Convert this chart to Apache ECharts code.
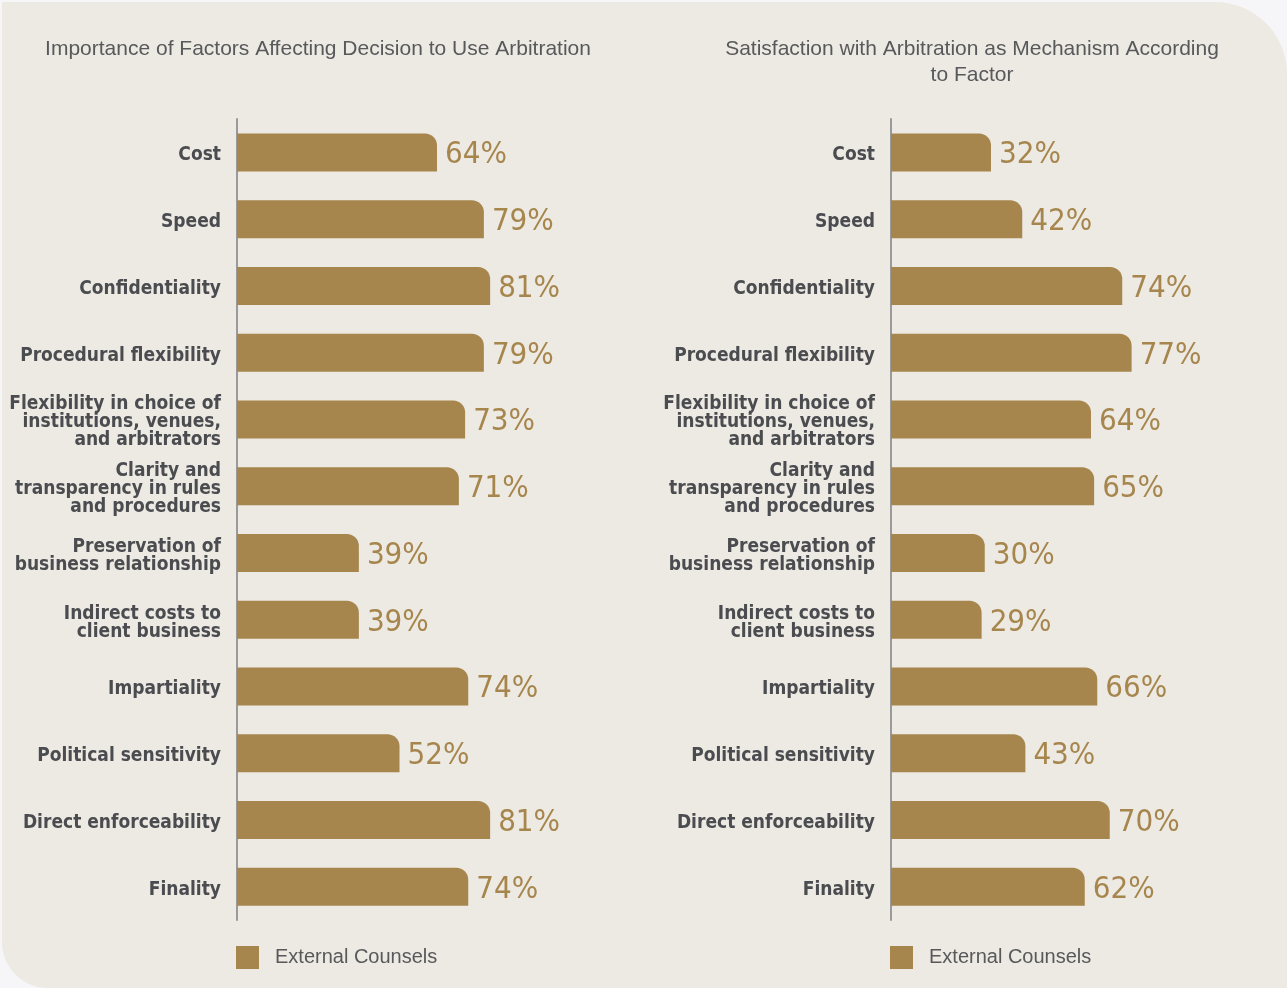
<!DOCTYPE html>
<html>
<head>
<meta charset="utf-8">
<title>Arbitration factors</title>
<script src="https://cdn.jsdelivr.net/npm/echarts@6/dist/echarts.min.js"></script>
<style>
  html, body { margin: 0; padding: 0; background: #f6f6f8; }
  #wrap {
    position: absolute; left: 2px; top: 2px; width: 1285px; height: 986px;
    background: #ede9e3;
    border-radius: 0 72px 0 46px;
  }
  #chart { position: absolute; left: 0; top: 0; width: 1287px; height: 988px; }
</style>
</head>
<body>
<div id="wrap"></div>
<div id="chart"></div>
<script>
// Factors, top to bottom
const factors = [
  'Cost',
  'Speed',
  'Confidentiality',
  'Procedural flexibility',
  'Flexibility in choice of\ninstitutions, venues,\nand arbitrators',
  'Clarity and\ntransparency in rules\nand procedures',
  'Preservation of\nbusiness relationship',
  'Indirect costs to\nclient business',
  'Impartiality',
  'Political sensitivity',
  'Direct enforceability',
  'Finality'
];
// Share of external counsels (%)
const importanceValues = [64, 79, 81, 79, 73, 71, 39, 39, 74, 52, 81, 74];
const satisfactionValues = [32, 42, 74, 77, 64, 65, 30, 29, 66, 43, 70, 62];

const seriesName = 'External Counsels';
const leftTitle = 'Importance of Factors Affecting Decision to Use Arbitration';
const rightTitle = 'Satisfaction with Arbitration as Mechanism According\nto Factor';

const GOLD = '#a6864d';
const TEXT = '#58595b';
const LABEL = '#4a4c50';
const condensed = '"Liberation Sans Narrow", "DejaVu Sans Condensed", "Roboto", sans-serif';
const plain = '"Liberation Sans", "Open Sans", sans-serif';

const chart = echarts.init(document.getElementById('chart'), null, { renderer: 'canvas' });

function xAxisFor(idx) {
  return {
    type: 'value', gridIndex: idx, min: 0, max: 100,
    show: false
  };
}
function yAxisFor(idx) {
  return {
    type: 'category', gridIndex: idx, inverse: true, data: factors,
    axisLine: { show: true, lineStyle: { color: '#9a9a9a', width: 2 } },
    axisTick: { show: false },
    axisLabel: {
      margin: 16, align: 'right',
      // a thin spacer line on top nudges the centred block down a little
      formatter: v => '{s| }\n' + v.split('\n').map(l => '{a|' + l + '}').join('\n'),
      rich: {
        s: { fontSize: 6, lineHeight: 6 },
        a: { color: LABEL, fontFamily: condensed, fontWeight: 'bold',
             fontSize: 19, lineHeight: 18, align: 'right' }
      }
    }
  };
}
function barSeries(idx, values) {
  return {
    type: 'bar', name: seriesName, xAxisIndex: idx, yAxisIndex: idx,
    data: values, barWidth: 38,
    itemStyle: { color: GOLD, borderRadius: [0, 12, 0, 0] },
    label: {
      show: true, position: 'right', distance: 8, offset: [0, 3],
      formatter: '{c}%', color: GOLD, fontFamily: condensed,
      fontSize: 31
    }
  };
}
function legendFor(left) {
  return {
    data: [seriesName], left: left, top: 946, padding: 0,
    itemWidth: 23, itemHeight: 23, icon: 'rect',
    textStyle: { color: TEXT, fontFamily: plain, fontSize: 20, padding: [0, 0, 0, 11] }
  };
}

chart.setOption({
  backgroundColor: 'transparent',
  animation: false,
  title: [
    { text: leftTitle, left: 318, top: 36, padding: 0, textAlign: 'center',
      textStyle: { color: TEXT, fontFamily: plain, fontWeight: 'normal', fontSize: 21, lineHeight: 26 } },
    { text: rightTitle, left: 972, top: 36, padding: 0, textAlign: 'center',
      textStyle: { color: TEXT, fontFamily: plain, fontWeight: 'normal', fontSize: 21, lineHeight: 26 } }
  ],
  grid: [
    { left: 237, top: 119, width: 312.5, height: 801 },
    { left: 891, top: 119, width: 312.5, height: 801 }
  ],
  xAxis: [xAxisFor(0), xAxisFor(1)],
  yAxis: [yAxisFor(0), yAxisFor(1)],
  legend: [legendFor(236), legendFor(890)],
  series: [barSeries(0, importanceValues), barSeries(1, satisfactionValues)]
});
</script>
</body>
</html>
